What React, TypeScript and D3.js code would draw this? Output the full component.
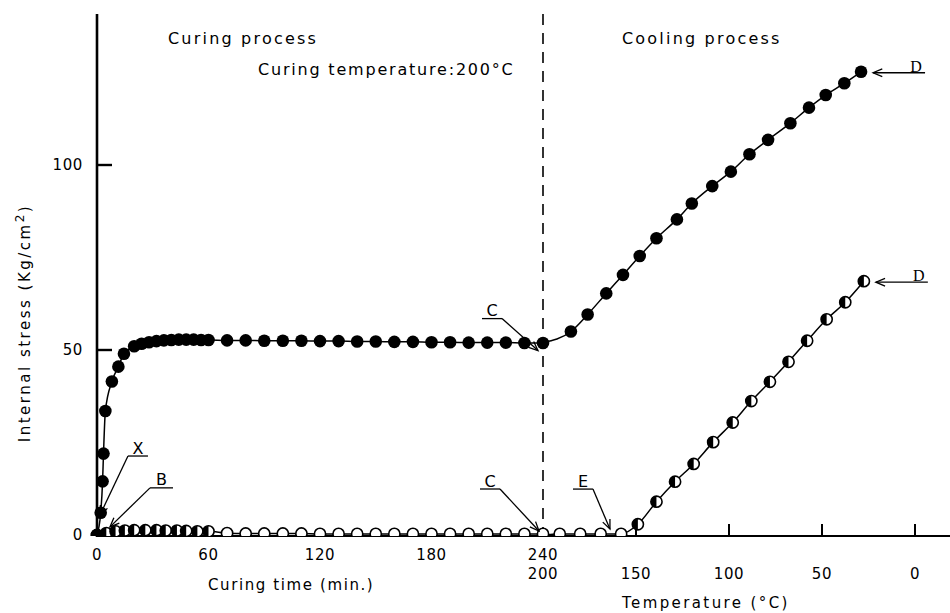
import React from "react";
import * as d3 from "d3";

// curing process: time (min) vs internal stress (Kg/cm2)
const curingTime = [0, 2, 3, 3.5, 4.5, 8, 11.5, 14.5, 20, 24, 28, 32, 36, 40, 44, 48, 52, 56, 60, 70,
  80, 90, 100, 110, 120, 130, 140, 150, 160, 170, 180, 190, 200, 210, 220, 230, 240];
const curingStress = [0, 6, 14.5, 22, 33.5, 41.5, 45.5, 49, 51, 51.7, 52.1, 52.4, 52.6, 52.7, 52.8, 52.8, 52.8, 52.7, 52.7, 52.6,
  52.6, 52.5, 52.5, 52.5, 52.4, 52.4, 52.3, 52.3, 52.2, 52.2, 52.1, 52.1, 52.0, 52.0, 52.0, 51.9, 51.9];

const bTime = [0, 5, 10, 15, 20, 26, 32, 37, 43, 48, 54, 60, 70, 80, 90, 100, 110, 120, 130, 140,
  150, 160, 170, 180, 190, 200, 210, 220, 230, 240];
const bStress = [0, 0.5, 1, 1.2, 1.3, 1.3, 1.3, 1.2, 1.2, 1.1, 1, 1, 0.5, 0.4, 0.4, 0.4, 0.4, 0.3, 0.3, 0.3,
  0.3, 0.3, 0.3, 0.3, 0.3, 0.3, 0.3, 0.3, 0.3, 0.3];

// cooling process: temperature (C) vs internal stress
const coolTemp = [200, 185, 176, 166, 157, 148, 139, 128, 120, 109, 99, 89, 79, 67, 57, 48, 38, 29];
const coolStress = [52, 55, 59.6, 65.3, 70.3, 75.4, 80.2, 85.3, 89.6, 94.3, 98.2, 102.9, 106.8, 111.3, 115.5, 118.9, 122.1, 125.2];

const coolOpenTemp = [200, 191, 180, 169, 158, 149, 139, 129, 119, 108.5, 98, 88, 78, 68, 58, 47.5, 37.5, 27.5];
const coolOpenStress = [0, 0.3, 0.3, 0.3, 0.3, 2.9, 9, 14.4, 19.2, 25.1, 30.4, 36.2, 41.4, 46.8, 52.5, 58.3, 62.9, 68.6];

const timeTicks = [0, 60, 120, 180, 240];
const tempTicks = [200, 150, 100, 50, 0];
const stressTicks = [0, 50, 100];

const W = 950, H = 613;
const FONT = "DejaVu Sans, sans-serif";

const xTime = d3.scaleLinear().domain([0, 240]).range([97, 543]);
const xTemp = d3.scaleLinear().domain([200, 0]).range([543, 915]);
const y = d3.scaleLinear().domain([0, 100]).range([535, 165]);

type P = [number, number];
const zip = (xs: number[], ys: number[], sx: (v: number) => number): P[] =>
  xs.map((v, i) => [sx(v), y(ys[i])]);

const line = d3.line<P>().x((d) => d[0]).y((d) => d[1]).curve(d3.curveMonotoneX);

const Filled = ({ p }: { p: P }) => <circle cx={p[0]} cy={p[1]} r={6.3} fill="#000" />;
const Half = ({ p, open }: { p: P; open?: boolean }) => {
  const r = 5.6;
  return (
    <g>
      <circle cx={p[0]} cy={p[1]} r={r} fill="#fff" stroke="#000" strokeWidth={1.6} />
      {!open && (
        <path d={`M${p[0]},${p[1] - r} A${r},${r} 0 0 0 ${p[0]},${p[1] + r} Z`} fill="#000" />
      )}
    </g>
  );
};

const Arrow = ({ from, tip }: { from: P; tip: P }) => {
  const a = Math.atan2(tip[1] - from[1], tip[0] - from[0]);
  const L = 10, s = 0.4;
  const h1: P = [tip[0] - L * Math.cos(a - s), tip[1] - L * Math.sin(a - s)];
  const h2: P = [tip[0] - L * Math.cos(a + s), tip[1] - L * Math.sin(a + s)];
  return (
    <g stroke="#000" strokeWidth={1.3} fill="none">
      <line x1={from[0]} y1={from[1]} x2={tip[0]} y2={tip[1]} />
      <polyline points={`${h1[0]},${h1[1]} ${tip[0]},${tip[1]} ${h2[0]},${h2[1]}`} />
    </g>
  );
};

// leader note: tip in data space, elbow offset, underline length (signed)
const Note = ({ label, tip, dx, dy, ul }: { label: string; tip: P; dx: number; dy: number; ul: number }) => {
  const elbow: P = [tip[0] + dx, tip[1] + dy];
  const end: P = [elbow[0] + ul, elbow[1]];
  return (
    <g>
      <Arrow from={elbow} tip={tip} />
      <line x1={elbow[0]} y1={elbow[1]} x2={end[0]} y2={end[1]} stroke="#000" strokeWidth={1.3} />
      <text x={(elbow[0] + end[0]) / 2} y={elbow[1] - 2.5} textAnchor="middle" fontSize={16} fontFamily={FONT}>
        {label}
      </text>
    </g>
  );
};

const DNote = ({ dot }: { dot: P }) => {
  const tip: P = [dot[0] + 12, dot[1] + 1];
  const end: P = [tip[0] + 52, tip[1]];
  return (
    <g>
      <Arrow from={end} tip={tip} />
      <text x={end[0] - 9} y={tip[1] - 1} textAnchor="middle" fontSize={16} fontFamily="Liberation Serif, serif">
        D
      </text>
    </g>
  );
};

const App = () => {
  const cur = zip(curingTime, curingStress, xTime);
  const b = zip(bTime, bStress, xTime);
  const cool = zip(coolTemp, coolStress, xTemp);
  const coolOpen = zip(coolOpenTemp, coolOpenStress, xTemp);
  const x0 = xTime(0), y0 = y(0), xSplit = xTime(240);
  const txt = { fontFamily: FONT, fontSize: 15, letterSpacing: 1.6 } as const;
  const num = { fontFamily: FONT, fontSize: 15, letterSpacing: 0.6 } as const;

  return (
    <svg width={W} height={H} style={{ position: "absolute", left: 0, top: 0, background: "#fff" }}>
      <defs>
        <clipPath id="plot">
          <rect x={x0 - 8} y={0} width={W} height={y0 + 1} />
        </clipPath>
      </defs>

      {/* axes */}
      <line x1={x0} y1={14} x2={x0} y2={y0 + 2} stroke="#000" strokeWidth={2.6} />
      <line x1={x0 - 1} y1={y0 + 1} x2={W} y2={y0 + 1} stroke="#000" strokeWidth={2} />
      <line x1={xSplit} y1={14} x2={xSplit} y2={y0} stroke="#000" strokeWidth={1.6} strokeDasharray="11 8" />

      {stressTicks.filter((v) => v > 0).map((v) => (
        <line key={v} x1={x0} x2={x0 + 15} y1={y(v)} y2={y(v)} stroke="#000" strokeWidth={2.4} />
      ))}
      {stressTicks.map((v) => (
        <text key={v} x={83} y={y(v)} dy="0.35em" textAnchor="end" {...num}>
          {v}
        </text>
      ))}
      {timeTicks.slice(1, 4).map((v) => (
        <line key={v} x1={xTime(v)} x2={xTime(v)} y1={y0} y2={y0 - 7} stroke="#000" strokeWidth={2} />
      ))}
      {tempTicks.slice(1).map((v) => (
        <line key={v} x1={xTemp(v)} x2={xTemp(v)} y1={y0} y2={y0 - 11} stroke="#000" strokeWidth={2} />
      ))}
      {timeTicks.map((v) => (
        <text key={v} x={xTime(v)} y={555} dy="0.35em" textAnchor="middle" {...num}>
          {v}
        </text>
      ))}
      {tempTicks.map((v) => (
        <text key={v} x={xTemp(v)} y={574} dy="0.35em" textAnchor="middle" {...num}>
          {v}
        </text>
      ))}

      <text x={208} y={585} dy="0.35em" {...txt}>Curing time (min.)</text>
      <text x={622} y={603} dy="0.35em" {...txt} letterSpacing={2.4}>Temperature (°C)</text>
      <text transform="translate(25,323) rotate(-90)" textAnchor="middle" dy="0.35em" {...txt} letterSpacing={2.5}>
        Internal stress  (Kg/cm<tspan dy="-6" fontSize={12}>2</tspan><tspan dy="6">)</tspan>
      </text>

      <text x={168} y={38} dy="0.35em" {...txt} fontSize={16} letterSpacing={2.2}>Curing process</text>
      <text x={258} y={69} dy="0.35em" {...txt} fontSize={16} letterSpacing={1.8}>Curing temperature:200°C</text>
      <text x={622} y={38} dy="0.35em" {...txt} fontSize={16} letterSpacing={2.2}>Cooling process</text>

      {/* curves */}
      <g fill="none" stroke="#000" strokeWidth={1.5}>
        <path d={line(cur) ?? ""} />
        <path d={line(b) ?? ""} />
        <path d={line(cool) ?? ""} />
        <path d={line(coolOpen) ?? ""} />
      </g>

      <g clipPath="url(#plot)">
        {b.map((p, i) => (
          <Half key={"b" + i} p={p} open={bTime[i] > 60} />
        ))}
        {coolOpen.slice(1).map((p, i) => (
          <Half key={"co" + i} p={p} open={coolOpenStress[i + 1] < 1} />
        ))}
        {cur.map((p, i) => (
          <Filled key={"c" + i} p={p} />
        ))}
        {cool.slice(1).map((p, i) => (
          <Filled key={"f" + i} p={p} />
        ))}
      </g>

      {/* annotations */}
      <Note label="X" tip={[xTime(1.6), y(5.4)]} dx={28} dy={-59} ul={20} />
      <Note label="B" tip={[xTime(7), y(2.2)]} dx={40} dy={-39} ul={23} />
      <Note label="C" tip={[xTime(240) - 5, y(52) + 8]} dx={-36} dy={-32} ul={-20} />
      <Note label="C" tip={[xTime(240) - 4, y(0) - 4]} dx={-39} dy={-42} ul={-20} />
      <Note label="E" tip={[xTemp(164), y(1.6)]} dx={-17} dy={-40} ul={-20} />
      <DNote dot={cool[cool.length - 1]} />
      <DNote dot={coolOpen[coolOpen.length - 1]} />
    </svg>
  );
};

export default App;
